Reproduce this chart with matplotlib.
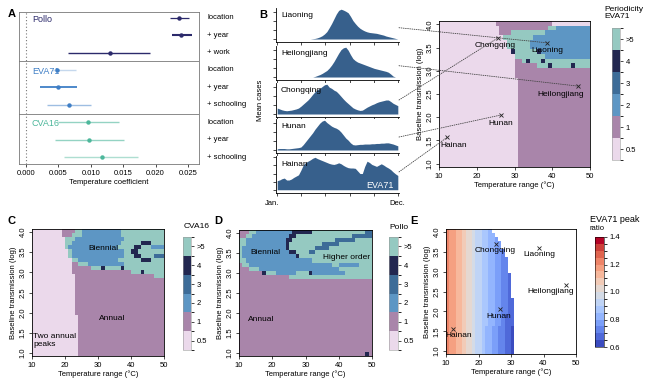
import numpy as np
import matplotlib
matplotlib.use('Agg')
import matplotlib.pyplot as plt
from matplotlib.colors import ListedColormap, BoundaryNorm
from matplotlib.cm import ScalarMappable
from matplotlib.patches import ConnectionPatch

plt.rcParams['font.family'] = ['Liberation Sans', 'DejaVu Sans']
plt.rcParams['font.size'] = 5.5
plt.rcParams['axes.linewidth'] = 0.6

# ---------------- A: temperature coefficients
coef_rows = ['location', '+ year', '+ work',
             'location', '+ year', '+ schooling',
             'location', '+ year', '+ schooling']
coef_virus = ['Pollo', 'Pollo', 'Pollo', 'EVA71', 'EVA71', 'EVA71', 'CVA16', 'CVA16', 'CVA16']
coef_est = [0.0236, 0.0239, 0.0129, 0.0048, 0.0050, 0.0066, 0.0095, 0.0097, 0.0117]
coef_lo = [0.0222, 0.0225, 0.0065, 0.0040, 0.0022, 0.0032, 0.0050, 0.0044, 0.0059]
coef_hi = [0.0252, 0.0256, 0.0192, 0.0077, 0.0078, 0.0100, 0.0144, 0.0151, 0.0173]
virus_colors = {'Pollo': '#2c2a6b', 'EVA71': '#3f7fc6', 'CVA16': '#4db79b'}
ci_lw = [0.9, 1.5, 1.0, 1.0, 1.3, 1.0, 1.0, 1.0, 1.0]
ci_alpha = [1.0, 1.0, 1.0, 0.3, 1.0, 0.5, 0.6, 0.6, 0.45]

# ---------------- B: mean weekly cases (scaled to peak)
provinces = ['Liaoning', 'Heilongjiang', 'Chongqing', 'Hunan', 'Hainan']
liaoning = [0, 0, 0, 0, 0, 0, 0, 0, 0, 0, 0, 0, 0, 0, 0,
            0.01, 0.02, 0.04, 0.07, 0.11, 0.17, 0.25, 0.38, 0.52, 0.68,
            0.84, 0.96, 1.0, 0.97, 0.93, 0.88, 0.76, 0.62, 0.52, 0.43,
            0.36, 0.31, 0.27, 0.24, 0.22, 0.21, 0.2, 0.19, 0.17, 0.15,
            0.13, 0.1, 0.08, 0.06, 0.04, 0.02, 0]
heilongjiang = [0, 0, 0, 0, 0, 0, 0, 0, 0, 0, 0, 0, 0, 0, 0, 0,
                0.02, 0.05, 0.08, 0.12, 0.17, 0.22, 0.3, 0.4, 0.52, 0.66,
                0.8, 0.92, 0.98, 1.0, 0.9, 0.75, 0.62, 0.55, 0.5, 0.47,
                0.44, 0.41, 0.38, 0.35, 0.32, 0.29, 0.27, 0.25, 0.23, 0.21,
                0.19, 0.16, 0.1, 0.03, 0, 0]
chongqing = [0.2, 0.17, 0.14, 0.12, 0.11, 0.12, 0.13, 0.15, 0.17, 0.2,
             0.26, 0.33, 0.4, 0.47, 0.56, 0.66, 0.75, 0.82, 0.86, 0.92,
             0.98, 1.0, 0.9, 0.86, 0.8, 0.76, 0.68, 0.59, 0.5, 0.42,
             0.35, 0.28, 0.21, 0.17, 0.14, 0.12, 0.13, 0.18, 0.23, 0.27,
             0.31, 0.34, 0.38, 0.41, 0.43, 0.45, 0.47, 0.47, 0.42, 0.36,
             0.32, 0.28]
hunan = [0.04, 0.05, 0.05, 0.05, 0.04, 0.04, 0.05, 0.06, 0.07, 0.08,
         0.1, 0.18, 0.28, 0.38, 0.48, 0.58, 0.7, 0.8, 0.9, 0.97,
         1.0, 0.92, 0.86, 0.8, 0.76, 0.73, 0.68, 0.6, 0.5, 0.4,
         0.33, 0.24, 0.18, 0.17, 0.18, 0.19, 0.19, 0.2, 0.2, 0.2,
         0.21, 0.21, 0.22, 0.22, 0.23, 0.23, 0.24, 0.24, 0.22, 0.2,
         0.17, 0.14]
hainan = [0.28, 0.3, 0.34, 0.36, 0.3, 0.3, 0.33, 0.38, 0.42, 0.46,
          0.6, 0.76, 0.84, 0.88, 0.92, 0.97, 1.0, 0.96, 0.93, 0.9,
          0.87, 0.84, 0.81, 0.79, 0.78, 0.8, 0.83, 0.8, 0.75, 0.71,
          0.68, 0.67, 0.67, 0.66, 0.58, 0.5, 0.5, 0.72, 0.88, 0.84,
          0.78, 0.75, 0.72, 0.76, 0.8, 0.76, 0.71, 0.67, 0.62, 0.55,
          0.49, 0.44]
weekly_cases = [liaoning, heilongjiang, chongqing, hunan, hainan]

# province location on the (temperature range, transmission) plane
prov_temp = [38.7, 46.8, 25.5, 26.5, 12.2]
prov_beta = [3.6, 2.67, 3.7, 2.05, 1.57]

# ---------------- periodicity maps, rows from log-transmission 4.0 (top) to 1.0,
# 40 columns for temperature range 10..50; p=0.5, a=1, b=2, c=3, d=4, h=>5
period_labels = ['0.5', '1', '2', '3', '4', '>5']
period_colors = ['#ebd9eb', '#a985aa', '#5d96c4', '#3d6c98', '#222750', '#95c9c1']

eva71_period = [
    '15p 15a 10p', '16p 13a 2h 9b', '16p 3a 9h 12b', '17p 8h 15b', '18p 6h 16b',
    '18p 6h 16b', '19p 1d 6h 1d 13b', '20p 8h 12b', '20p 2a 1h 1d 3h 1d 12h',
    '20p 6a 3h 1d 5h 1d 4h', '20p 20a', '20p 20a',
    '21p 19a', '21p 19a', '21p 19a', '21p 19a', '21p 19a', '21p 19a', '21p 19a',
    '21p 19a', '21p 19a', '21p 19a', '21p 19a', '21p 19a', '21p 19a', '21p 19a',
    '21p 19a', '21p 19a', '21p 19a', '21p 19a', '21p 19a']

cva16_period = [
    '9p 4a 2h 12b 13h', '9p 3a 3h 12b 13h', '10p 3h 15b 12h', '10p 2h 15b 6h 3d 4h',
    '10p 1h 15b 5h 2d 3h 4b', '11p 1h 16b 2h 2d 8h', '11p 1h 16b 3h 2d 4h 3c',
    '12p 2h 12b 7h 3d 4h', '12p 2a 3h 11b 12h', '12p 6a 3h 1d 5h 1d 12h',
    '12p 18a 3h 1d 6h', '13p 24a 3h',
    '13p 27a', '13p 27a', '13p 27a', '13p 27a', '13p 27a', '13p 27a', '13p 27a',
    '13p 27a', '13p 27a',
    '14p 26a', '14p 26a', '14p 26a', '14p 26a', '14p 26a', '14p 26a', '14p 26a',
    '14p 26a', '14p 26a', '14p 26a']

polio_period = [
    '3a 2h 11b 6d 16h 2c', '2a 2h 11b 2d 17h 6c', '2h 12b 2d 13h 6c 5h',
    '2h 12b 1d 10h 5c 10h', '1h 13b 1d 8h 4c 13h', '1h 14b 2d 4h 2c 17h',
    '1h 16b 1d 22h', '2h 20b 18h', '1a 2h 25b 2h 6b 4h', '3a 3h 24b 10h',
    '7a 1d 3h 6b 4h 1d 10b 8h', '15a 25h',
    '40a', '40a', '40a', '40a', '40a', '40a', '40a', '40a', '40a', '40a',
    '40a', '40a', '40a', '40a', '40a', '40a', '40a', '40a', '38a 1d 1a']

# ---------------- EVA71 peak ratio, code k -> 0.625 + 0.05 k ('.' = not annual)
ratio_codes = '0123456789ABCDEF'
eva71_ratio = [
    'CBBAA988766554', 'CBBAA9887665544', 'CBBAA98876655443', 'CBBAA988766554433',
    'CBBAA988766554433', 'CBBAA9887665544332', 'CBBAA9887665544332',
    'CBBAA98876655443322', 'CBBAA98876655443322', 'CBBAA98876655443322',
    'CBBAA98876655443322', 'CBBAA988766554433221',
    'CBBAA988766554433221', 'CBBAA988766554433221', 'CBBAA988766554433221',
    'CBBAA988766554433221', 'CBBAA988766554433221',
    'CBBAA9887665544332211', 'CBBAA9887665544332211', 'CBBAA9887665544332211',
    'CBBAA9887665544332211',
    'CBBAA9887665544332111', 'CBBAA9887665544332111', 'CBBAA9887665544332111',
    'CBBAA9887665443322110', 'CBBAA9887665443322110', 'CBBAA9887665443322110',
    'CBBAA9887665443322110', 'CBBAA9887665443322110', 'CBBAA9887665443322110',
    'CBBAA9887665443322110']


def decode_period(rows):
    codes = 'pabcdh'
    out = []
    for r in rows:
        line = ''.join(tok[-1] * int(tok[:-1]) for tok in r.split())
        line = (line + '.' * 40)[:40]
        out.append([codes.index(ch) if ch in codes else np.nan for ch in line])
    return np.array(out[::-1], dtype=float)


def decode_ratio(rows):
    out = []
    for r in rows:
        line = (r + '.' * 40)[:40]
        out.append([0.625 + 0.05 * ratio_codes.index(ch) if ch in ratio_codes else np.nan
                    for ch in line])
    return np.array(out[::-1], dtype=float)


# ---------------- figure
W, H = 650, 390
fig = plt.figure(figsize=(6.5, 3.9), dpi=100)


def add_ax(l, t, r, b):
    return fig.add_axes([l / W, 1 - b / H, (r - l) / W, (b - t) / H])


def ftext(x, y, s, **kw):
    fig.text(x / W, 1 - y / H, s, **kw)


# ---- A
axA = add_ax(19, 12, 199, 164)
for i in range(len(coef_rows)):
    c = virus_colors[coef_virus[i]]
    axA.plot([coef_lo[i], coef_hi[i]], [i, i], color=c, lw=ci_lw[i], alpha=ci_alpha[i],
             solid_capstyle='butt')
    axA.plot(coef_est[i], i, 'o', color=c, ms=3.2, mec='none')
    axA.text(1.045, i, coef_rows[i], transform=axA.get_yaxis_transform(),
             va='center', ha='left', fontsize=5.5)
for v in virus_colors:
    i0 = coef_virus.index(v)
    axA.text(0.0009, i0 + 0.1, v, color=virus_colors[v], fontsize=6.5, va='center')
axA.axvline(0, color='#777777', lw=0.8, ls=(0, (1, 2)))
for yy in (2.5, 5.5):
    axA.axhline(yy, color='#8a8a8a', lw=0.7)
axA.set_xlim(-0.00108, 0.0267)
axA.set_ylim(8.4, -0.33)
axA.set_yticks([])
axA.set_xticks([0, 0.005, 0.01, 0.015, 0.02, 0.025])
axA.set_xticklabels(['0.000', '0.005', '0.010', '0.015', '0.020', '0.025'])
axA.tick_params(axis='x', length=2.5, width=0.5, labelsize=5.5, pad=2)
for s in axA.spines.values():
    s.set_color('#777777')
axA.set_xlabel('Temperature coefficient', fontsize=5.5, labelpad=1.5)

# ---- B time series
ts_boxes = [(8, 42), (46, 80), (83, 117), (119, 153), (156, 193)]
line_start = [0.42, 0.42, 0.5, 0.47, 0.57]
weeks = np.arange(1, 53)
ts_axes = []
for k, (t, b) in enumerate(ts_boxes):
    ax = add_ax(276, t, 399, b)
    ax.fill_between(weeks, 0, weekly_cases[k], color='#37608c', lw=0)
    ax.set_xlim(0.5, 52.5)
    ax.set_ylim(-0.1, 1.04)
    for s in ('top', 'right'):
        ax.spines[s].set_visible(False)
    ax.set_xticks(np.linspace(1, 52, 6))
    ax.set_xticklabels([])
    ax.set_yticks([0, 0.25, 0.5, 0.75, 1.0] if k == 4 else [0, 0.3, 0.6, 0.9])
    ax.set_yticklabels([])
    ax.tick_params(length=2.5, width=0.5)
    ax.text(0.04, 0.78, provinces[k], transform=ax.transAxes, fontsize=6, va='center')
    ts_axes.append(ax)
ts_axes[4].text(0.96, 0.2, 'EVA71', transform=ts_axes[4].transAxes, color='white',
                fontsize=6.5, ha='right', va='center')
ftext(260, 100, 'Mean cases', rotation=90, ha='center', va='center', fontsize=5.5)
ftext(272, 203, 'Jan.', ha='center', va='center', fontsize=5.5)
ftext(397, 203, 'Dec.', ha='center', va='center', fontsize=5.5)

# ---- heatmaps
x_edges = np.arange(10, 51)
y_edges = np.linspace(0.93, 4.07, 32)
period_cmap = ListedColormap(period_colors)
period_norm = BoundaryNorm(np.arange(-0.5, 6.5, 1), 6)
ratio_norm = BoundaryNorm(np.linspace(0.6, 1.4, 17), 256)
ratio_cmap = plt.get_cmap('coolwarm')


def style_heat(ax):
    ax.set_xlim(10, 50)
    ax.set_ylim(0.93, 4.07)
    ax.set_xticks([10, 20, 30, 40, 50])
    ax.set_yticks([1.0, 1.5, 2.0, 2.5, 3.0, 3.5, 4.0])
    ax.set_yticklabels(['1.0', '1.5', '2.0', '2.5', '3.0', '3.5', '4.0'],
                       rotation=90, va='center')
    ax.tick_params(length=2.5, width=0.5, labelsize=5.5, pad=1.5)
    ax.set_xlabel('Temperature range (°C)', fontsize=5.5, labelpad=1)
    ax.set_ylabel('Baseline transmission (log)', fontsize=5.5, labelpad=2)


def period_bar(box, title, tx, ty):
    cax = add_ax(*box)
    cb = fig.colorbar(ScalarMappable(norm=period_norm, cmap=period_cmap), cax=cax,
                      ticks=range(6))
    cb.set_ticklabels(period_labels)
    cb.outline.set_linewidth(0.4)
    cb.outline.set_edgecolor('#999999')
    cax.tick_params(length=2.5, width=0.5, labelsize=5.5, pad=1.5)
    ftext(tx, ty, title, ha='left', va='top', fontsize=6, linespacing=1.1)


label_offsets = [(0.1, -0.17), (-4.5, -0.17), (-0.5, -0.16), (-0.2, -0.18), (1.6, -0.18)]


def mark_provinces(ax):
    ax.plot(prov_temp, prov_beta, 'x', color='#222222', ms=3.5, mew=0.6)
    for k in range(len(provinces)):
        dx, dy = label_offsets[k]
        ax.text(prov_temp[k] + dx, prov_beta[k] + dy, provinces[k], fontsize=6,
                ha='center', va='center')


# B map
axB = add_ax(439, 21, 590, 167)
axB.pcolormesh(x_edges, y_edges, np.ma.masked_invalid(decode_period(eva71_period)),
               cmap=period_cmap, norm=period_norm)
style_heat(axB)
mark_provinces(axB)
period_bar((612, 28, 620, 160), 'Periodicity\nEVA71', 604, 6)
for k, ax in enumerate(ts_axes):
    con = ConnectionPatch(xyA=(1.0, line_start[k]), coordsA=ax.transAxes,
                          xyB=(prov_temp[k], prov_beta[k]), coordsB=axB.transData,
                          color='#444444', lw=0.6, ls=(0, (1, 1.6)))
    fig.add_artist(con)

# C map
axC = add_ax(32, 229, 164, 356)
axC.pcolormesh(x_edges, y_edges, np.ma.masked_invalid(decode_period(cva16_period)),
               cmap=period_cmap, norm=period_norm)
style_heat(axC)
axC.text(31.6, 3.58, 'Biennial', fontsize=6, ha='center', va='center')
axC.text(34.2, 1.85, 'Annual', fontsize=6, ha='center', va='center')
axC.text(10.4, 1.31, 'Two annual\npeaks', fontsize=6, ha='left', va='center',
         linespacing=1.3)
period_bar((183, 237, 191, 350), 'CVA16', 184, 223)

# D map
axD = add_ax(239, 230, 372, 356)
axD.pcolormesh(x_edges, y_edges, np.ma.masked_invalid(decode_period(polio_period)),
               cmap=period_cmap, norm=period_norm)
style_heat(axD)
axD.text(18, 3.5, 'Biennial', fontsize=6, ha='center', va='center')
axD.text(42.2, 3.38, 'Higher order', fontsize=6, ha='center', va='center')
axD.text(16.8, 1.85, 'Annual', fontsize=6, ha='center', va='center')
period_bar((389, 237, 398, 350), 'Pollo', 389, 224)

# E map
axE = add_ax(446, 229, 576, 354)
axE.pcolormesh(x_edges, y_edges, np.ma.masked_invalid(decode_ratio(eva71_ratio)),
               cmap=ratio_cmap, norm=ratio_norm)
style_heat(axE)
mark_provinces(axE)
caxE = add_ax(595, 237, 604, 347)
cbE = fig.colorbar(ScalarMappable(norm=ratio_norm, cmap=ratio_cmap), cax=caxE,
                   ticks=[0.6, 0.8, 1.0, 1.2, 1.4])
cbE.set_ticklabels(['0.6', '0.8', '1.0', '1.2', '1.4'])
cbE.outline.set_linewidth(0.4)
caxE.tick_params(length=2.5, width=0.5, labelsize=5.5, pad=1.5)
ftext(590, 219, 'EVA71 peak', ha='left', va='center', fontsize=6.5)
ftext(590, 229, 'ratio', ha='left', va='center', fontsize=5.5)

# panel letters
for lab, x, y in [('A', 12, 14), ('B', 263, 15), ('C', 11, 221), ('D', 218, 221), ('E', 414, 221)]:
    ftext(x, y, lab, fontsize=8, fontweight='bold', ha='center', va='center')

fig.savefig('out.png', dpi=100)
